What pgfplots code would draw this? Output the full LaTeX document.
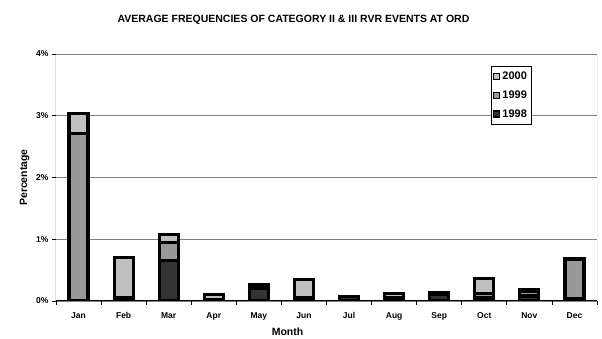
\documentclass[border=0pt]{standalone}
\usepackage{pgfplots}
\pgfplotsset{compat=1.18}
\usepackage{pgfplotstable}
\usepackage{fontspec}
\setmainfont{Liberation Sans}
\definecolor{c98}{HTML}{333333}
\definecolor{c99}{HTML}{999999}
\definecolor{c00}{HTML}{C0C0C0}
\pgfplotstableread{
x y98 y99 y00
0 0.00 2.71 0.33
1 0.03 0.02 0.65
2 0.65 0.30 0.13
3 0.03 0.00 0.07
4 0.21 0.05 0.00
5 0.03 0.02 0.30
6 0.07 0.00 0.00
7 0.05 0.00 0.07
8 0.10 0.03 0.00
9 0.06 0.06 0.25
10 0.08 0.08 0.03
11 0.04 0.64 0.00
}\data
\begin{document}
\begin{tikzpicture}
\begin{axis}[
  scale only axis, width=541pt, height=247pt,
  ybar stacked, bar width=19pt,
  xmin=-0.5, xmax=11.5, ymin=0, ymax=4,
  xtick={0,...,11},
  xticklabels={Jan,Feb,Mar,Apr,May,Jun,Jul,Aug,Sep,Oct,Nov,Dec},
  minor xtick={-0.5,0.5,...,11.5},
  major x tick style={draw=none},
  minor tick length=4pt,
  ytick={0,1,2,3,4},
  yticklabels={0\%,1\%,2\%,3\%,4\%},
  major tick length=4pt,
  tick align=outside,
  xtick pos=bottom, ytick pos=left,
  tick style={black, line width=0.8pt},
  ymajorgrids, grid style={gray, line width=0.8pt},
  axis line style={draw=none},
  ticklabel style={font=\fontsize{8.5}{9}\selectfont\bfseries},
  xticklabel style={yshift=-4pt},
  xlabel={Month}, ylabel={Percentage},
  label style={font=\fontsize{10.5}{11}\selectfont\bfseries},
  xlabel style={yshift=-1pt, xshift=-39pt},
  ylabel style={yshift=0pt},
  title={AVERAGE FREQUENCIES OF CATEGORY II \& III RVR EVENTS AT ORD},
  title style={font=\fontsize{10.5}{12}\selectfont\bfseries, yshift=20pt, xshift=-33pt},
  legend style={at={(0.804,0.95)}, anchor=north west, draw=black, line width=0.6pt,
    font=\fontsize{11}{11}\selectfont\bfseries, inner xsep=2pt, inner ysep=3.5pt, row sep=5.5pt,
    cells={anchor=west}, legend image post style={line width=1.2pt}},
  legend image code/.code={\draw[#1] (0pt,-3pt) rectangle (6pt,3pt);},
  reverse legend,
]
\addplot[fill=c98, draw=black, line width=3.2pt] table[x=x,y=y98]{\data};
\addplot[fill=c99, draw=black, line width=3.2pt] table[x=x,y=y99]{\data};
\addplot[fill=c00, draw=black, line width=3.2pt] table[x=x,y=y00]{\data};
\legend{1998,1999,2000}
\draw[black, line width=1pt] (rel axis cs:0,0) -- (rel axis cs:0,1);
\draw[black, line width=1pt] (rel axis cs:0,0) -- (rel axis cs:1,0);
\draw[gray, line width=1pt] (rel axis cs:1,0) -- (rel axis cs:1,1);
\end{axis}
\pgfresetboundingbox
\path ([xshift=-56pt,yshift=-38pt]current axis.south west) rectangle ([xshift=5pt,yshift=54pt]current axis.north east);
\end{tikzpicture}
\end{document}
